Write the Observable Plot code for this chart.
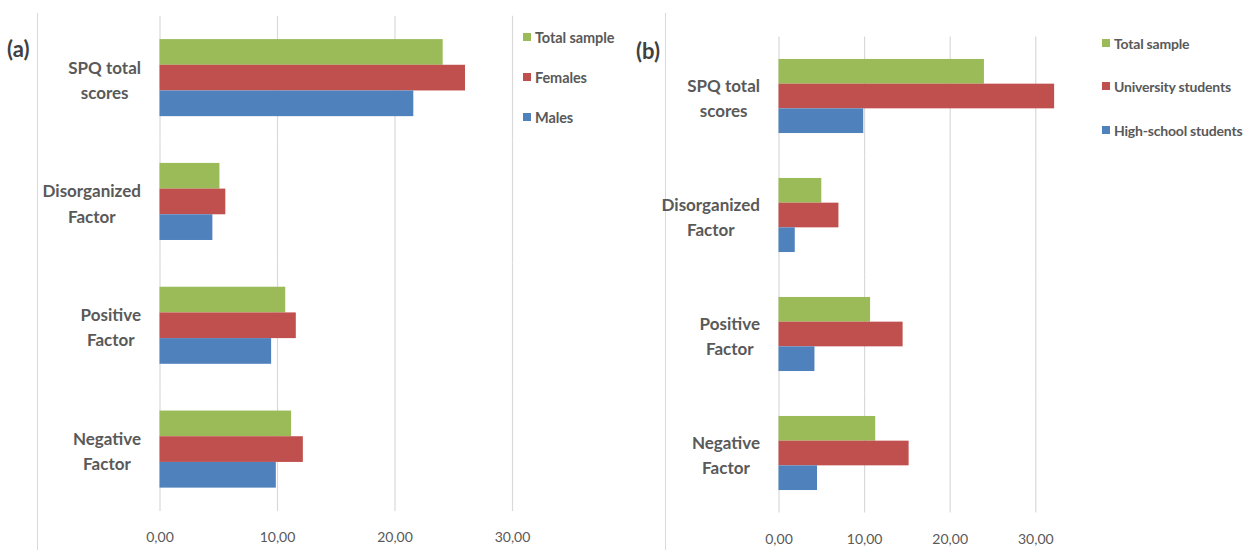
<!DOCTYPE html>
<html>
<head>
<meta charset="utf-8">
<script src="https://cdn.jsdelivr.net/npm/d3@7"></script>
<script src="https://cdn.jsdelivr.net/npm/@observablehq/plot@0.6"></script>
<style>
  body { margin: 0; background: #fff; font-family: Lato, sans-serif; }
  #wrap { position: relative; width: 1253px; height: 550px; overflow: hidden; background: #fff; }
  .panel { position: absolute; top: 0; }
  .vline { position: absolute; width: 1px; background: #d9d9d9; }
  .tag { position: absolute; font: bold 22px Lato, sans-serif; color: #404040; line-height: 26px; }
  .leg { position: absolute; display: flex; align-items: center; font: bold 14.5px Lato, sans-serif; letter-spacing: -0.1px; color: #595959; white-space: nowrap; height: 18px; }
  .leg i { display: inline-block; width: 8px; height: 8px; margin-right: 4px; }
  #legB .leg { font-size: 14px; letter-spacing: -0.2px; }
</style>
</head>
<body>
<div id="wrap">
  <div class="vline" style="left:37px;top:13px;height:537px"></div>
  <div class="vline" style="left:665px;top:13px;height:537px"></div>
  <div class="panel" id="pa" style="left:0px"></div>
  <div class="panel" id="pb" style="left:630px"></div>
  <div class="tag" style="left:7px;top:36px">(a)</div>
  <div class="tag" style="left:636px;top:38px">(b)</div>
  <div id="legA"></div>
  <div id="legB"></div>
</div>
<script>
// ---- data ----
const categories = ["SPQ total scores", "Disorganized Factor", "Positive Factor", "Negative Factor"];
const categoryLines = [["SPQ total", "scores"], ["Disorganized", "Factor"], ["Positive", "Factor"], ["Negative", "Factor"]];

const seriesA = ["Total sample", "Females", "Males"];
const totalA = [24.1, 5.1, 10.7, 11.2];
const femalesA = [26.0, 5.6, 11.6, 12.2];
const malesA = [21.6, 4.5, 9.5, 9.9];

const seriesB = ["Total sample", "University students", "High-school students"];
const totalB = [24.0, 5.0, 10.7, 11.3];
const universityB = [32.2, 7.0, 14.5, 15.2];
const highSchoolB = [9.9, 1.9, 4.2, 4.5];

const xTicks = [0, 10, 20, 30];
const colors = ["#9BBB59", "#C0504D", "#4F81BD"];

// ---- drawing ----
const ctx = document.createElement("canvas").getContext("2d");
ctx.font = "bold 17px Lato";

function panel(series, values, o) {
  const rows = [];
  categories.forEach((c, i) => series.forEach((s, j) => rows.push({cat: c, series: s, value: values[j][i]})));
  const labelMarks = categories.map((c, i) => {
    const lines = categoryLines[i];
    const w = Math.max(...lines.map(l => ctx.measureText(l).width));
    return Plot.text([c], {
      fy: d => d, text: () => lines.join("\n"), frameAnchor: "left", textAnchor: "middle",
      dx: -(o.labelGap + w / 2), lineHeight: 1.48, fontSize: 17, fontWeight: "bold", fill: "#595959"
    });
  });
  return Plot.plot({
    width: o.width, height: 550,
    marginLeft: o.marginLeft, marginRight: o.marginRight, marginTop: o.marginTop, marginBottom: o.marginBottom,
    style: {fontFamily: "Lato, sans-serif", fontSize: "14px", color: "#595959", background: "transparent"},
    fy: {domain: categories, padding: 0, axis: null, round: false},
    y: {domain: series, paddingInner: 0, paddingOuter: 0.91, axis: null, round: false},
    x: {domain: [0, 30], ticks: xTicks, tickFormat: d => d.toFixed(2).replace(".", ","), tickSize: 0, tickPadding: 21, label: null},
    color: {domain: series, range: colors},
    marks: [
      Plot.ruleX(xTicks, {stroke: "#d9d9d9", strokeWidth: 1.2}),
      Plot.barX(rows, {fy: "cat", y: "series", x: "value", fill: "series"}),
      ...labelMarks
    ]
  });
}

function legend(el, series, left, tops) {
  series.forEach((s, i) => {
    const d = document.createElement("div");
    d.className = "leg";
    d.style.left = left + "px";
    d.style.top = (tops[i] - 9) + "px";
    const sw = document.createElement("i");
    sw.style.background = colors[i];
    d.appendChild(sw);
    d.appendChild(document.createTextNode(s));
    el.appendChild(d);
  });
}

document.getElementById("pa").appendChild(panel(seriesA, [totalA, femalesA, malesA],
  {width: 630, marginLeft: 159.5, marginRight: 118, marginTop: 15.7, marginBottom: 39, labelGap: 19}));
document.getElementById("pb").appendChild(panel(seriesB, [totalB, universityB, highSchoolB],
  {width: 623, marginLeft: 148.5, marginRight: 217.7, marginTop: 36.5, marginBottom: 37.5, labelGap: 19}));

legend(document.getElementById("legA"), seriesA, 523, [37, 77, 117]);
legend(document.getElementById("legB"), seriesB, 1102, [43, 86, 130]);
</script>
</body>
</html>
